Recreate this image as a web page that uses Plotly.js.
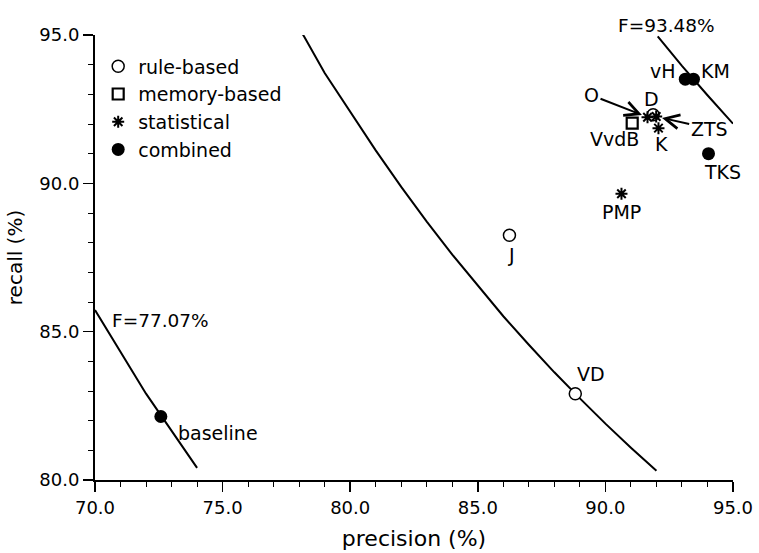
<!DOCTYPE html>
<html>
<head>
<meta charset="utf-8">
<script src="https://cdn.plot.ly/plotly-3.0.1.min.js"></script>
<style>
html,body{margin:0;padding:0;background:#fff;}
#chart{width:759px;height:553px;}
</style>
</head>
<body>
<div id="chart"></div>
<script>
// ---- data (precision %, recall %) ----
const ruleNames = ["J", "VD", "D"];
const ruleP = [86.24, 88.82, 91.87];
const ruleR = [88.25, 82.91, 92.31];

const memNames = ["VvdB"];
const memP = [91.05];
const memR = [92.03];

const statNames = ["O", "ZTS", "K", "PMP"];
const statP = [91.65, 91.99, 92.08, 90.63];
const statR = [92.23, 92.25, 91.86, 89.65];

const combNames = ["baseline", "vH", "KM", "TKS"];
const combP = [72.58, 93.13, 93.45, 94.04];
const combR = [82.14, 93.51, 93.51, 91.00];

// iso-F curves, points
const curveLabels = ["F=77.07%", "F=85.76%", "F=93.48%"];
const curve1P = [70.0, 72.0, 74.0];
const curve1R = [85.73, 82.91, 80.41];
const curve2P = [78.02, 78.2, 79.0, 80.0, 81.0, 82.0, 83.0, 84.0, 85.0, 86.0, 87.0, 88.0, 89.0, 90.0, 91.0, 92.0];
const curve2R = [95.2, 94.94, 93.72, 92.41, 91.11, 89.88, 88.71, 87.60, 86.54, 85.52, 84.56, 83.63, 82.75, 81.90, 81.09, 80.31];
const curve3P = [92.05, 93.0, 94.0, 95.0];
const curve3R = [94.95, 93.96, 92.97, 92.01];

const xTickVals = [70, 75, 80, 85, 90, 95];
const yTickVals = [80, 85, 90, 95];
const legendNames = ["rule-based", "memory-based", "statistical", "combined"];

const FONT = "DejaVu Sans, Verdana, sans-serif";
const lineStyle = {color: "black", width: 2};

const traces = [
  {x: curve1P, y: curve1R, mode: "lines", line: lineStyle, showlegend: false, hoverinfo: "skip", cliponaxis: false},
  {x: curve2P, y: curve2R, mode: "lines", line: lineStyle, showlegend: false, hoverinfo: "skip", cliponaxis: false},
  {x: curve3P, y: curve3R, mode: "lines", line: lineStyle, showlegend: false, hoverinfo: "skip", cliponaxis: false},
  {x: ruleP, y: ruleR, text: ruleNames, name: legendNames[0], mode: "markers", cliponaxis: false,
   marker: {symbol: "circle", size: 12, color: "white", line: {color: "black", width: 1.5}}},
  {x: memP, y: memR, text: memNames, name: legendNames[1], mode: "markers", cliponaxis: false,
   marker: {symbol: "square-open", size: 11, color: "black", line: {color: "black", width: 2.2}}},
  {x: statP, y: statR, text: statNames, name: legendNames[2], mode: "markers", cliponaxis: false,
   marker: {symbol: "asterisk-open", size: 10, color: "black", line: {color: "black", width: 2}}},
  {x: combP, y: combR, text: combNames, name: legendNames[3], mode: "markers", cliponaxis: false,
   marker: {symbol: "circle", size: 13, color: "black", line: {color: "black", width: 0}}}
];

// label offsets in px (xshift, yshift) -- positioning only
const labelOffsets = {
  "J": [2, -20], "VD": [16, 20], "D": [-2, 16],
  "VvdB": [-18, -16],
  "K": [3, -16], "PMP": [0, -18],
  "baseline": [57, -16], "vH": [-22, 8], "KM": [22, 8], "TKS": [14, -18]
};
const arrowOffsets = {"O": [-56, -22], "ZTS": [53, 12]};
const LBL = 19;

const annotations = [];
function addLabels(names, P, R) {
  names.forEach((n, i) => {
    if (arrowOffsets[n]) {
      annotations.push({x: P[i], y: R[i], xref: "x", yref: "y", text: n, showarrow: true,
        ax: arrowOffsets[n][0], ay: arrowOffsets[n][1], arrowhead: 5, arrowsize: 1.4, arrowwidth: 2,
        arrowcolor: "black", standoff: 6, font: {family: FONT, size: LBL, color: "black"}});
    } else {
      const o = labelOffsets[n] || [0, 0];
      annotations.push({x: P[i], y: R[i], xref: "x", yref: "y", text: n, showarrow: false,
        xshift: o[0], yshift: o[1], font: {family: FONT, size: LBL, color: "black"}});
    }
  });
}
addLabels(ruleNames, ruleP, ruleR);
addLabels(memNames, memP, memR);
addLabels(statNames, statP, statR);
addLabels(combNames, combP, combR);

// F labels near the start of each curve
annotations.push({x: curve1P[0], y: curve1R[0], xref: "x", yref: "y", text: curveLabels[0], showarrow: false,
  xshift: 65, yshift: -10, font: {family: FONT, size: 18.5, color: "black"}});
annotations.push({x: curve2P[0], y: curve2R[0], xref: "x", yref: "y", text: curveLabels[1], showarrow: false,
  xshift: 26, yshift: 16, font: {family: FONT, size: 18.5, color: "black"}});
annotations.push({x: curve3P[0], y: curve3R[0], xref: "x", yref: "y", text: curveLabels[2], showarrow: false,
  xshift: 9, yshift: 11, font: {family: FONT, size: 18.5, color: "black"}});

const axisCommon = {
  showgrid: false, zeroline: false, showline: true, linecolor: "black", linewidth: 2,
  ticks: "outside", ticklen: 10, tickwidth: 1.5, tickcolor: "black",
  tickformat: ".1f", tickfont: {family: FONT, size: 18, color: "black"},
  minor: {dtick: 1, ticks: "outside", ticklen: 5, tickwidth: 1, tickcolor: "black", showgrid: false},
  mirror: false
};

const layout = {
  width: 759, height: 553,
  margin: {l: 95, r: 26, t: 35, b: 73},
  paper_bgcolor: "white", plot_bgcolor: "white",
  showlegend: true,
  legend: {x: 0.005, y: 0.972, xanchor: "left", yanchor: "top", bgcolor: "rgba(0,0,0,0)",
    font: {family: FONT, size: 19, color: "black"}, itemwidth: 30, tracegroupgap: 0},
  xaxis: Object.assign({}, axisCommon, {range: [70, 95], tickvals: xTickVals,
    title: {text: "precision (%)", font: {family: FONT, size: 22, color: "black"}, standoff: 14}}),
  yaxis: Object.assign({}, axisCommon, {range: [80, 95], tickvals: yTickVals,
    title: {text: "recall (%)", font: {family: FONT, size: 20, color: "black"}, standoff: 11}}),
  annotations: annotations
};

Plotly.newPlot("chart", traces, layout, {displayModeBar: false, staticPlot: true});
</script>
</body>
</html>
